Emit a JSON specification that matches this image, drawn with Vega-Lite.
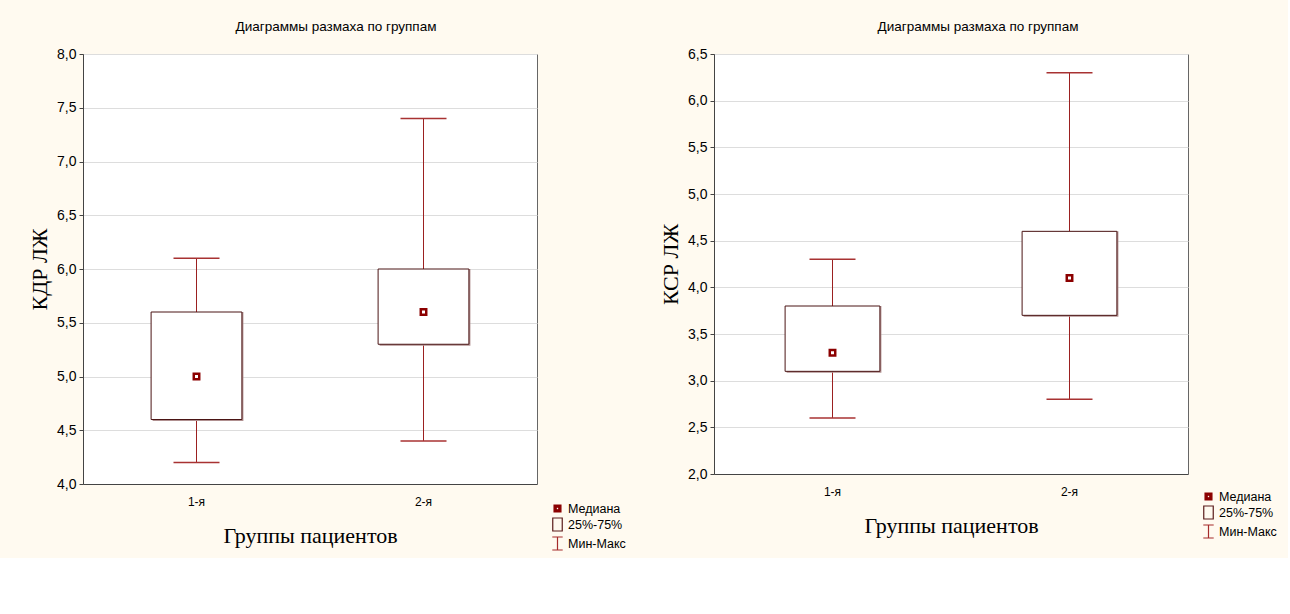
{
  "$schema": "https://vega.github.io/schema/vega-lite/v6.json",
  "background": "#fffaf0",
  "padding": {"left": 28, "top": 19, "right": 10, "bottom": 4},
  "bounds": "flush",
  "spacing": 177,
  "datasets": {
    "kdr": [
      {"group": "1-я", "min": 4.2, "q1": 4.6, "median": 5.0, "q3": 5.6, "max": 6.1, "stat": "Медиана"},
      {"group": "2-я", "min": 4.4, "q1": 5.3, "median": 5.6, "q3": 6.0, "max": 7.4, "stat": "Медиана"}
    ],
    "ksr": [
      {"group": "1-я", "min": 2.6, "q1": 3.1, "median": 3.3, "q3": 3.8, "max": 4.3, "stat": "Медиана"},
      {"group": "2-я", "min": 2.8, "q1": 3.7, "median": 4.1, "q3": 4.6, "max": 6.3, "stat": "Медиана"}
    ]
  },
  "hconcat": [
    {
      "width": 454,
      "height": 430,
      "title": {"text": "Диаграммы размаха по группам", "dx": 26},
      "data": {"name": "kdr"},
      "encoding": {
        "x": {"field": "group", "type": "nominal", "scale": {"type": "band", "paddingInner": 0, "paddingOuter": 0},
          "axis": {"title": "Группы пациентов", "labelAngle": 0, "ticks": false, "labelPadding": 12, "titlePadding": 18, "labelFontSize": 12}}
      },
      "layer": [
        {
          "mark": {"type": "rule", "color": "#9b2020", "strokeWidth": 1},
          "encoding": {
            "y": {"field": "min", "type": "quantitative",
              "scale": {"domain": [4, 8], "nice": false, "zero": false},
              "axis": {"title": "КДР ЛЖ", "values": [4, 4.5, 5, 5.5, 6, 6.5, 7, 7.5, 8],
                "labelExpr": "replace(format(datum.value, '.1f'), '.', ',')", "labelFontSize": 14, "tickSize": 4, "labelPadding": 3, "titlePadding": 5}},
            "y2": {"field": "max"}
          }
        },
        {
          "mark": {"type": "bar", "fill": "#b09090", "width": {"band": 0.4}, "xOffset": 1.5, "yOffset": 1.5},
          "encoding": {"y": {"field": "q1", "type": "quantitative"}, "y2": {"field": "q3"}}
        },
        {
          "mark": {"type": "bar", "fill": "white", "stroke": "#4a1414", "strokeWidth": 1, "width": {"band": 0.4}},
          "encoding": {"y": {"field": "q1", "type": "quantitative"}, "y2": {"field": "q3"}}
        },
        {
          "mark": {"type": "tick", "orient": "horizontal", "size": 46, "thickness": 1.5, "color": "#a83232", "opacity": 1},
          "encoding": {"y": {"field": "min", "type": "quantitative"}}
        },
        {
          "mark": {"type": "tick", "orient": "horizontal", "size": 46, "thickness": 1.5, "color": "#a83232", "opacity": 1},
          "encoding": {"y": {"field": "max", "type": "quantitative"}}
        },
        {
          "mark": {"type": "point", "filled": true, "size": 225, "opacity": 1, "strokeWidth": 0},
          "encoding": {
            "y": {"field": "median", "type": "quantitative"},
            "shape": {"field": "stat", "type": "nominal",
              "scale": {"domain": ["Медиана", "25%-75%", "Мин-Макс"],
                "range": ["M-0.53,-0.53H0.53V0.53H-0.53Z M-0.2,-0.2V0.2H0.2V-0.2Z", "M-0.73,-1H0.73V1H-0.73Z", "M-0.8,-1H0.8M0,-1V1M-0.8,1H0.8"]},
              "legend": {"title": null, "orient": "none", "legendX": 467, "legendY": 447}},
            "fill": {"field": "stat", "type": "nominal",
              "scale": {"domain": ["Медиана", "25%-75%", "Мин-Макс"], "range": ["#8b0000", "transparent", "transparent"]},
              "legend": {"title": null, "orient": "none", "legendX": 467, "legendY": 447}},
            "stroke": {"field": "stat", "type": "nominal",
              "scale": {"domain": ["Медиана", "25%-75%", "Мин-Макс"], "range": ["#8b0000", "#5a1a1a", "#a52a2a"]},
              "legend": {"title": null, "orient": "none", "legendX": 467, "legendY": 447}}
          }
        }
      ]
    },
    {
      "width": 474,
      "height": 420,
      "title": {"text": "Диаграммы размаха по группам", "dx": 27},
      "data": {"name": "ksr"},
      "encoding": {
        "x": {"field": "group", "type": "nominal", "scale": {"type": "band", "paddingInner": 0, "paddingOuter": 0},
          "axis": {"title": "Группы пациентов", "labelAngle": 0, "ticks": false, "labelPadding": 12, "titlePadding": 18, "labelFontSize": 12}}
      },
      "layer": [
        {
          "mark": {"type": "rule", "color": "#9b2020", "strokeWidth": 1},
          "encoding": {
            "y": {"field": "min", "type": "quantitative",
              "scale": {"domain": [2, 6.5], "nice": false, "zero": false},
              "axis": {"title": "КСР ЛЖ", "values": [2, 2.5, 3, 3.5, 4, 4.5, 5, 5.5, 6, 6.5],
                "labelExpr": "replace(format(datum.value, '.1f'), '.', ',')", "labelFontSize": 14, "tickSize": 4, "labelPadding": 3, "titlePadding": 5}},
            "y2": {"field": "max"}
          }
        },
        {
          "mark": {"type": "bar", "fill": "#b09090", "width": {"band": 0.4}, "xOffset": 1.5, "yOffset": 1.5},
          "encoding": {"y": {"field": "q1", "type": "quantitative"}, "y2": {"field": "q3"}}
        },
        {
          "mark": {"type": "bar", "fill": "white", "stroke": "#4a1414", "strokeWidth": 1, "width": {"band": 0.4}},
          "encoding": {"y": {"field": "q1", "type": "quantitative"}, "y2": {"field": "q3"}}
        },
        {
          "mark": {"type": "tick", "orient": "horizontal", "size": 46, "thickness": 1.5, "color": "#a83232", "opacity": 1},
          "encoding": {"y": {"field": "min", "type": "quantitative"}}
        },
        {
          "mark": {"type": "tick", "orient": "horizontal", "size": 46, "thickness": 1.5, "color": "#a83232", "opacity": 1},
          "encoding": {"y": {"field": "max", "type": "quantitative"}}
        },
        {
          "mark": {"type": "point", "filled": true, "size": 225, "opacity": 1, "strokeWidth": 0},
          "encoding": {
            "y": {"field": "median", "type": "quantitative"},
            "shape": {"field": "stat", "type": "nominal",
              "scale": {"domain": ["Медиана", "25%-75%", "Мин-Макс"],
                "range": ["M-0.53,-0.53H0.53V0.53H-0.53Z M-0.2,-0.2V0.2H0.2V-0.2Z", "M-0.73,-1H0.73V1H-0.73Z", "M-0.8,-1H0.8M0,-1V1M-0.8,1H0.8"]},
              "legend": {"title": null, "orient": "none", "legendX": 487, "legendY": 435}},
            "fill": {"field": "stat", "type": "nominal",
              "scale": {"domain": ["Медиана", "25%-75%", "Мин-Макс"], "range": ["#8b0000", "transparent", "transparent"]},
              "legend": {"title": null, "orient": "none", "legendX": 487, "legendY": 435}},
            "stroke": {"field": "stat", "type": "nominal",
              "scale": {"domain": ["Медиана", "25%-75%", "Мин-Макс"], "range": ["#8b0000", "#5a1a1a", "#a52a2a"]},
              "legend": {"title": null, "orient": "none", "legendX": 487, "legendY": 435}}
          }
        }
      ]
    }
  ],
  "resolve": {
    "scale": {"x": "independent", "y": "independent", "shape": "independent", "fill": "independent", "stroke": "independent"},
    "legend": {"shape": "independent", "fill": "independent", "stroke": "independent"},
    "axis": {"x": "independent", "y": "independent"}
  },
  "config": {
    "font": "Liberation Sans",
    "view": {"fill": "white", "stroke": "#666666", "strokeWidth": 1},
    "title": {"font": "Liberation Sans", "fontSize": 13.5, "fontWeight": "normal", "color": "#000000", "offset": 14, "anchor": "middle"},
    "axis": {"labelFont": "Liberation Sans", "labelColor": "#000000", "titleFont": "Liberation Serif", "titleFontSize": 22,
      "titleFontWeight": "normal", "titleColor": "#000000", "domainColor": "#444444", "tickColor": "#444444", "gridColor": "#dddddd"},
    "legend": {"labelFont": "Liberation Sans", "labelFontSize": 12.5, "labelColor": "#000000", "symbolSize": 169,
      "symbolStrokeWidth": 1.2, "symbolOpacity": 1, "rowPadding": 0, "labelOffset": 3}
  }
}
